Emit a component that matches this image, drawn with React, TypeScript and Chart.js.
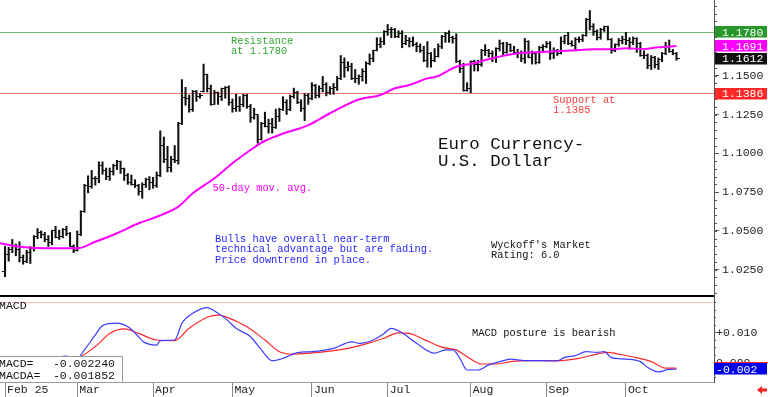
import React, { useEffect, useRef } from 'react';
import { Chart, registerables } from 'chart.js';

Chart.register(...registerables);

const FONT = '"Liberation Mono", "DejaVu Sans Mono", monospace';

// ---- x axis (trading-day index) ----
const MONTH_LABELS = ['Feb 25', 'Mar', 'Apr', 'May', 'Jun', 'Jul', 'Aug', 'Sep', 'Oct'];
const MONTH_START = [0, 20, 41, 63, 85, 106, 129, 150, 172];
const X_MIN = -1.4;
const X_MAX = 196.4;

// ---- daily OHLC ----
const OPEN = [
  1.0240,1.0345,1.0380,1.0405,1.0380,1.0330,1.0305,1.0360,1.0385,1.0465,1.0490,1.0480,1.0445,1.0425,1.0500,1.0460,1.0465,1.0510,1.0485,1.0400,
  1.0375,1.0480,1.0625,1.0790,1.0785,1.0835,1.0835,1.0920,1.0890,1.0850,1.0880,1.0920,1.0945,1.0900,1.0855,1.0815,1.0800,1.0790,1.0755,1.0800,1.0830,
  1.0815,1.0790,1.0855,1.1050,1.0960,1.0910,1.0960,1.0955,1.1190,1.1360,1.1350,1.1285,1.1400,1.1365,1.1400,1.1510,1.1420,1.1315,1.1390,1.1365,1.1420,1.1425,
  1.1330,1.1290,1.1300,1.1315,1.1370,1.1300,1.1230,1.1250,1.1090,1.1190,1.1175,1.1190,1.1165,1.1240,1.1285,1.1330,1.1285,1.1365,1.1390,1.1325,1.1290,1.1370,
  1.1350,1.1440,1.1370,1.1420,1.1445,1.1395,1.1420,1.1425,1.1485,1.1585,1.1550,1.1560,1.1480,1.1480,1.1495,1.1525,1.1580,1.1610,1.1665,1.1700,1.1720,
  1.1785,1.1800,1.1800,1.1755,1.1775,1.1710,1.1725,1.1720,1.1700,1.1690,1.1665,1.1600,1.1640,1.1595,1.1625,1.1690,1.1755,1.1770,1.1745,1.1740,1.1590,1.1545,1.1405,
  1.1415,1.1590,1.1570,1.1575,1.1665,1.1665,1.1640,1.1615,1.1675,1.1705,1.1650,1.1700,1.1660,1.1650,1.1650,1.1610,1.1720,1.1620,1.1640,1.1585,1.1680,
  1.1685,1.1710,1.1640,1.1660,1.1645,1.1720,1.1760,1.1710,1.1695,1.1735,1.1735,1.1760,1.1860,1.1815,1.1785,1.1745,1.1800,1.1815,1.1735,1.1665,1.1700,1.1730,
  1.1735,1.1730,1.1715,1.1740,1.1710,1.1630,1.1630,1.1565,1.1615,1.1570,1.1605,1.1645,1.1690,1.1655,1.1645,
];
const HIGH = [
  1.0400,1.0395,1.0445,1.0415,1.0430,1.0345,1.0375,1.0400,1.0470,1.0515,1.0500,1.0490,1.0470,1.0505,1.0530,1.0505,1.0515,1.0530,1.0490,1.0410,
  1.0500,1.0630,1.0800,1.0855,1.0890,1.0850,1.0945,1.0945,1.0905,1.0905,1.0930,1.0955,1.0950,1.0905,1.0870,1.0860,1.0830,1.0800,1.0810,1.0840,1.0850,
  1.0845,1.0880,1.1145,1.1105,1.1045,1.0980,1.1050,1.1200,1.1475,1.1425,1.1375,1.1405,1.1405,1.1385,1.1575,1.1510,1.1440,1.1405,1.1395,1.1420,1.1430,1.1435,
  1.1350,1.1380,1.1365,1.1380,1.1380,1.1315,1.1290,1.1250,1.1200,1.1265,1.1220,1.1225,1.1285,1.1290,1.1365,1.1345,1.1375,1.1420,1.1400,1.1345,1.1385,1.1385,
  1.1455,1.1445,1.1435,1.1495,1.1455,1.1430,1.1450,1.1495,1.1630,1.1615,1.1590,1.1580,1.1540,1.1505,1.1545,1.1590,1.1640,1.1665,1.1745,1.1745,1.1790,
  1.1830,1.1810,1.1805,1.1790,1.1790,1.1760,1.1745,1.1750,1.1715,1.1705,1.1690,1.1720,1.1650,1.1675,1.1705,1.1760,1.1780,1.1790,1.1755,1.1770,1.1600,1.1580,1.1455,
  1.1595,1.1600,1.1600,1.1670,1.1700,1.1670,1.1660,1.1680,1.1730,1.1715,1.1715,1.1705,1.1690,1.1670,1.1660,1.1740,1.1725,1.1660,1.1650,1.1690,1.1700,
  1.1720,1.1720,1.1680,1.1670,1.1750,1.1760,1.1780,1.1725,1.1745,1.1750,1.1765,1.1870,1.1920,1.1835,1.1795,1.1805,1.1820,1.1820,1.1740,1.1705,1.1740,1.1755,
  1.1780,1.1745,1.1750,1.1745,1.1715,1.1660,1.1640,1.1630,1.1625,1.1615,1.1650,1.1715,1.1730,1.1670,1.1650,
];
const LOW = [
  1.0205,1.0305,1.0360,1.0340,1.0300,1.0285,1.0295,1.0290,1.0370,1.0450,1.0455,1.0430,1.0400,1.0410,1.0455,1.0445,1.0455,1.0470,1.0400,1.0360,
  1.0370,1.0470,1.0620,1.0745,1.0775,1.0795,1.0810,1.0865,1.0830,1.0825,1.0860,1.0895,1.0870,1.0825,1.0800,1.0795,1.0780,1.0730,1.0710,1.0780,1.0765,
  1.0775,1.0780,1.0850,1.0940,1.0880,1.0880,1.0940,1.0930,1.1185,1.1310,1.1265,1.1270,1.1335,1.1355,1.1395,1.1395,1.1310,1.1315,1.1315,1.1340,1.1355,1.1310,
  1.1265,1.1270,1.1270,1.1300,1.1290,1.1200,1.1220,1.1065,1.1085,1.1170,1.1130,1.1130,1.1160,1.1205,1.1275,1.1250,1.1275,1.1355,1.1320,1.1270,1.1210,1.1315,
  1.1345,1.1355,1.1360,1.1395,1.1370,1.1380,1.1380,1.1405,1.1475,1.1490,1.1530,1.1475,1.1455,1.1445,1.1465,1.1450,1.1570,1.1590,1.1660,1.1680,1.1700,
  1.1760,1.1745,1.1745,1.1745,1.1680,1.1700,1.1685,1.1690,1.1655,1.1650,1.1590,1.1555,1.1555,1.1590,1.1620,1.1675,1.1715,1.1715,1.1710,1.1585,1.1520,1.1400,1.1400,
  1.1390,1.1530,1.1530,1.1560,1.1630,1.1620,1.1590,1.1585,1.1660,1.1630,1.1645,1.1655,1.1640,1.1615,1.1590,1.1580,1.1615,1.1575,1.1575,1.1580,1.1655,
  1.1680,1.1605,1.1610,1.1630,1.1640,1.1705,1.1700,1.1690,1.1660,1.1715,1.1720,1.1755,1.1795,1.1760,1.1730,1.1735,1.1785,1.1730,1.1645,1.1655,1.1690,1.1705,
  1.1700,1.1670,1.1700,1.1650,1.1625,1.1610,1.1545,1.1540,1.1550,1.1540,1.1590,1.1635,1.1650,1.1635,1.1600,
];
const CLOSE = [
  1.0345,1.0380,1.0405,1.0380,1.0330,1.0305,1.0360,1.0385,1.0465,1.0490,1.0480,1.0445,1.0425,1.0500,1.0460,1.0465,1.0510,1.0485,1.0400,1.0375,
  1.0480,1.0625,1.0790,1.0785,1.0835,1.0835,1.0920,1.0890,1.0850,1.0880,1.0920,1.0945,1.0900,1.0855,1.0815,1.0800,1.0790,1.0755,1.0800,1.0830,1.0815,
  1.0790,1.0855,1.1050,1.0960,1.0910,1.0960,1.0955,1.1190,1.1360,1.1350,1.1285,1.1400,1.1365,1.1370,1.1510,1.1420,1.1315,1.1390,1.1365,1.1420,1.1425,1.1330,
  1.1290,1.1300,1.1315,1.1370,1.1300,1.1230,1.1250,1.1090,1.1190,1.1175,1.1190,1.1165,1.1240,1.1285,1.1330,1.1285,1.1365,1.1390,1.1325,1.1290,1.1370,1.1350,
  1.1440,1.1370,1.1420,1.1445,1.1395,1.1420,1.1425,1.1485,1.1585,1.1550,1.1560,1.1480,1.1480,1.1495,1.1525,1.1580,1.1610,1.1665,1.1700,1.1720,1.1785,
  1.1800,1.1800,1.1755,1.1775,1.1710,1.1725,1.1720,1.1700,1.1690,1.1665,1.1600,1.1640,1.1595,1.1625,1.1690,1.1755,1.1770,1.1745,1.1740,1.1590,1.1545,1.1405,1.1415,
  1.1590,1.1570,1.1575,1.1665,1.1665,1.1640,1.1615,1.1675,1.1705,1.1650,1.1700,1.1660,1.1650,1.1650,1.1610,1.1720,1.1620,1.1640,1.1585,1.1680,1.1685,
  1.1710,1.1640,1.1660,1.1645,1.1720,1.1760,1.1710,1.1695,1.1735,1.1735,1.1760,1.1860,1.1815,1.1785,1.1745,1.1800,1.1815,1.1735,1.1665,1.1700,1.1730,1.1735,
  1.1730,1.1715,1.1740,1.1710,1.1630,1.1630,1.1565,1.1615,1.1570,1.1605,1.1645,1.1690,1.1655,1.1645,1.1612,
];

// ---- 50-day moving average ----
const MA_X = [-1.4, 4, 12, 20, 25, 31, 37, 42, 48, 52, 58, 63, 68, 71, 76, 84, 90, 98, 104, 108, 112, 117, 120, 124, 126, 129, 135, 142, 149, 157, 163, 168, 172, 177, 181, 186];
const MA_Y = [1.0420, 1.0398, 1.0388, 1.0388, 1.0430, 1.0485, 1.0549, 1.0591, 1.0656, 1.0742, 1.0839, 1.0936, 1.1021, 1.1068, 1.1118, 1.1182, 1.1258, 1.1347, 1.1376, 1.1419, 1.1440, 1.1483, 1.1498, 1.1548, 1.1564, 1.1575, 1.1612, 1.1644, 1.1653, 1.1662, 1.1670, 1.1670, 1.1677, 1.1672, 1.1683, 1.1691];

// ---- MACD and signal line ----
const MACD_X = [0, 8, 12, 15, 17, 19, 20, 22, 25, 27, 31, 34, 37, 38, 42, 43, 47, 49, 52, 56, 59, 61, 64, 68, 71, 74, 77, 81, 85, 91, 96, 98, 102, 105, 107, 110, 114, 119, 122, 124, 126, 128, 131, 134, 137, 140, 144, 148, 153, 155, 158, 161, 164, 166, 168, 172, 176, 178, 181, 184, 186];
const MACD_Y = [-0.0010, 0.0005, 0.0012, 0.0019, 0.0021, 0.0010, 0.0012, 0.0042, 0.0092, 0.0123, 0.0131, 0.0119, 0.0086, 0.0072, 0.0058, 0.0073, 0.0075, 0.0131, 0.0164, 0.0183, 0.0164, 0.0147, 0.0114, 0.0086, 0.0042, 0.0006, 0.0014, 0.0033, 0.0036, 0.0047, 0.0069, 0.0064, 0.0075, 0.0097, 0.0114, 0.0099, 0.0064, 0.0031, 0.0042, 0.0042, 0.0014, -0.0025, -0.0025, -0.0008, 0.0003, 0.0011, 0.0006, 0.0006, 0.0005, 0.0017, 0.0023, 0.0036, 0.0034, 0.0036, 0.0016, 0.0011, 0.0003, -0.0016, -0.0031, -0.0023, -0.00224];
const SIGNAL_X = [0, 8, 14, 20, 25, 29, 33, 37, 42, 47, 51, 56, 59, 61, 67, 72, 76, 80, 87, 95, 100, 105, 109, 112, 116, 121, 125, 128, 132, 136, 140, 147, 153, 159, 164, 167, 170, 175, 179, 183, 186];
const SIGNAL_Y = [-0.0005, 0.0000, 0.0008, 0.0015, 0.0053, 0.0097, 0.0112, 0.0097, 0.0075, 0.0073, 0.0114, 0.0151, 0.0158, 0.0153, 0.0119, 0.0075, 0.0036, 0.0028, 0.0034, 0.0047, 0.0062, 0.0081, 0.0099, 0.0097, 0.0077, 0.0051, 0.0042, 0.0019, -0.0005, -0.0005, 0.0003, 0.0006, 0.0006, 0.0014, 0.0028, 0.0034, 0.0028, 0.0016, 0.0003, -0.0019, -0.00185];

// ---- axes and reference levels ----
const PRICE_TICKS = [1.025, 1.05, 1.075, 1.1, 1.125, 1.15, 1.175];
const PRICE_TICK_LABELS = ['1.0250', '1.0500', '1.0750', '1.1000', '1.1250', '1.1500', ''];
const PRICE_MIN = 1.00741;
const PRICE_MAX = 1.19878;
const MACD_TICKS = [0, 0.01];
const MACD_TICK_LABELS = ['0.000', '+0.010'];
const MACD_MIN = -0.0065;
const MACD_MAX = 0.02183;
const MACD_UPPER_REF = 0.020;

const RESISTANCE = 1.178;
const SUPPORT = 1.1386;
const LAST_CLOSE = 1.1612;
const LAST_MA = 1.1691;
const LAST_MACD = -0.002240;
const LAST_MACDA = -0.001852;

function tickImage(side: 'open' | 'close') {
  const c = document.createElement('canvas');
  c.width = 7;
  c.height = 1;
  const g = c.getContext('2d')!;
  g.fillStyle = '#111';
  if (side === 'open') g.fillRect(0, 0, 3, 1);
  else g.fillRect(4, 0, 3, 1);
  return c;
}

function valueBox(ctx: CanvasRenderingContext2D, y: number, bg: string, text: string) {
  ctx.fillStyle = bg;
  ctx.fillRect(715, Math.round(y - 5.75), 52, 11.5);
  ctx.fillStyle = '#fff';
  ctx.font = `11.5px ${FONT}`;
  ctx.textAlign = 'left';
  ctx.textBaseline = 'middle';
  ctx.fillText(text, 722, y + 0.5);
}

function texts(ctx: CanvasRenderingContext2D, color: string, size: number, x: number, lines: [string, number][]) {
  ctx.fillStyle = color;
  ctx.font = `${size}px ${FONT}`;
  ctx.textAlign = 'left';
  ctx.textBaseline = 'alphabetic';
  for (const [t, y] of lines) ctx.fillText(t, x, y);
}

function noPadding(s: any) {
  s.paddingTop = 0;
  s.paddingBottom = 0;
  s.paddingLeft = 0;
  s.paddingRight = 0;
}

const pricePlugin = {
  id: 'pricePlugin',
  beforeDatasetsDraw(chart: any) {
    const { ctx, chartArea, scales } = chart;
    const y = scales.y;
    ctx.save();
    ctx.lineWidth = 1;
    ctx.strokeStyle = 'rgb(110,185,110)';
    const yr = Math.round(y.getPixelForValue(RESISTANCE)) + 0.5;
    ctx.beginPath(); ctx.moveTo(chartArea.left, yr); ctx.lineTo(chartArea.right, yr); ctx.stroke();
    ctx.strokeStyle = 'rgb(255,110,110)';
    const ys = Math.round(y.getPixelForValue(SUPPORT)) + 0.5;
    ctx.beginPath(); ctx.moveTo(chartArea.left, ys); ctx.lineTo(chartArea.right, ys); ctx.stroke();
    ctx.restore();
  },
  afterDraw(chart: any) {
    const { ctx, chartArea, scales } = chart;
    const y = scales.y;
    ctx.save();
    ctx.strokeStyle = '#555';
    ctx.lineWidth = 1;
    for (let v = 1.01; v < PRICE_MAX; v += 0.005) {
      const p = Math.round(y.getPixelForValue(v)) + 0.5;
      ctx.beginPath(); ctx.moveTo(chartArea.right, p); ctx.lineTo(chartArea.right + 3, p); ctx.stroke();
    }
    ctx.fillStyle = '#000';
    ctx.fillRect(chartArea.left, chartArea.bottom - 2, chartArea.right - chartArea.left, 2);

    valueBox(ctx, y.getPixelForValue(RESISTANCE), 'rgb(40,150,40)', RESISTANCE.toFixed(4));
    valueBox(ctx, y.getPixelForValue(LAST_MA), 'rgb(255,0,255)', LAST_MA.toFixed(4));
    valueBox(ctx, y.getPixelForValue(LAST_CLOSE), '#111', LAST_CLOSE.toFixed(4));
    valueBox(ctx, y.getPixelForValue(SUPPORT), 'rgb(255,40,40)', SUPPORT.toFixed(4));

    texts(ctx, 'rgb(50,165,50)', 10.4, 231, [['Resistance', 43.5], ['at 1.1780', 53.5]]);
    texts(ctx, 'rgb(255,60,60)', 10.4, 553, [['Support at', 102.5], ['1.1385', 112.5]]);
    texts(ctx, 'rgb(255,0,255)', 10.4, 212.5, [['50-day mov. avg.', 190.5]]);
    texts(ctx, 'rgb(40,40,255)', 10.4, 215, [
      ['Bulls have overall near-term', 242],
      ['technical advantage but are fading.', 252.3],
      ['Price downtrend in place.', 262.6],
    ]);
    texts(ctx, '#111', 17.4, 438, [['Euro Currency-', 149.3], ['U.S. Dollar', 166.3]]);
    texts(ctx, '#111', 10.4, 491, [["Wyckoff's Market", 247.5], ['Rating: 6.0', 258]]);
    ctx.restore();
  },
};

const macdPlugin = {
  id: 'macdPlugin',
  beforeDatasetsDraw(chart: any) {
    const { ctx, chartArea, scales } = chart;
    ctx.save();
    ctx.strokeStyle = 'rgb(255,185,185)';
    ctx.lineWidth = 1;
    const p = Math.round(scales.y.getPixelForValue(MACD_UPPER_REF)) + 0.5;
    ctx.beginPath(); ctx.moveTo(chartArea.left, p); ctx.lineTo(chartArea.right, p); ctx.stroke();
    ctx.restore();
  },
  afterDraw(chart: any) {
    const { ctx, chartArea, scales } = chart;
    const y = scales.y;
    ctx.save();
    ctx.strokeStyle = '#555';
    ctx.lineWidth = 1;
    for (let v = -0.005; v < MACD_MAX; v += 0.0025) {
      const p = Math.round(y.getPixelForValue(v)) + 0.5;
      ctx.beginPath(); ctx.moveTo(chartArea.right, p); ctx.lineTo(chartArea.right + 2, p); ctx.stroke();
    }
    const z = Math.round(y.getPixelForValue(0)) + 0.5;
    ctx.strokeStyle = 'rgb(255,40,40)';
    ctx.beginPath(); ctx.moveTo(chartArea.right, z); ctx.lineTo(768, z); ctx.stroke();
    const yb = y.getPixelForValue(LAST_MACD);
    ctx.fillStyle = 'rgb(0,0,235)';
    ctx.fillRect(714, Math.round(yb - 5.75), 53, 11.5);
    ctx.fillStyle = '#fff';
    ctx.font = `11.5px ${FONT}`;
    ctx.textAlign = 'left';
    ctx.textBaseline = 'middle';
    ctx.fillText(LAST_MACD.toFixed(3), 716, yb + 0.5);

    ctx.fillStyle = '#fff';
    ctx.fillRect(0, 59.5, 122, chartArea.bottom - 59.5);
    ctx.strokeStyle = '#999';
    ctx.beginPath(); ctx.moveTo(0, 59.5); ctx.lineTo(122.5, 59.5); ctx.lineTo(122.5, chartArea.bottom); ctx.stroke();
    ctx.fillStyle = '#111';
    ctx.font = `11.5px ${FONT}`;
    ctx.textBaseline = 'alphabetic';
    ctx.textAlign = 'left';
    ctx.fillText('MACD=', -1, 69.5);
    ctx.fillText('MACDA=', -1, 81.5);
    ctx.textAlign = 'right';
    ctx.fillText(LAST_MACD.toFixed(6), 115, 69.5);
    ctx.fillText(LAST_MACDA.toFixed(6), 115, 81.5);

    ctx.textAlign = 'left';
    ctx.fillText('MACD', -1, 11.5);
    texts(ctx, '#111', 10.4, 472, [['MACD posture is bearish', 38.8]]);

    ctx.fillStyle = 'rgb(255,30,30)';
    ctx.beginPath();
    ctx.moveTo(757, 93);
    ctx.lineTo(762, 89);
    ctx.lineTo(762, 91.5);
    ctx.lineTo(767, 91.5);
    ctx.lineTo(767, 94.5);
    ctx.lineTo(762, 94.5);
    ctx.lineTo(762, 97);
    ctx.closePath();
    ctx.fill();
    ctx.restore();
  },
};

export default function App() {
  const priceRef = useRef<HTMLCanvasElement>(null);
  const macdRef = useRef<HTMLCanvasElement>(null);

  useEffect(() => {
    document.body.style.margin = '0';
    Chart.defaults.font.family = FONT;
    const openImg = tickImage('open');
    const closeImg = tickImage('close');

    const priceChart = new Chart(priceRef.current!, {
      type: 'line',
      data: {
        datasets: [
          {
            type: 'line',
            label: 'MA50',
            data: MA_X.map((x, k) => ({ x, y: MA_Y[k] })),
            borderColor: 'rgb(255,0,255)',
            borderWidth: 2,
            pointRadius: 0,
            cubicInterpolationMode: 'monotone',
            order: 0,
          } as any,
          {
            type: 'line',
            label: 'open',
            data: OPEN.map((v, i) => ({ x: i, y: v })),
            showLine: false,
            pointStyle: openImg,
            pointRadius: 3,
            order: 1,
          } as any,
          {
            type: 'line',
            label: 'close',
            data: CLOSE.map((v, i) => ({ x: i, y: v })),
            showLine: false,
            pointStyle: closeImg,
            pointRadius: 3,
            order: 1,
          } as any,
          {
            type: 'bar',
            label: 'range',
            data: HIGH.map((h, i) => ({ x: i, y: [LOW[i], h] })),
            backgroundColor: '#111',
            borderWidth: 0,
            barThickness: 1.4,
            grouped: false,
            order: 2,
          } as any,
        ],
      },
      options: {
        responsive: false,
        animation: false,
        devicePixelRatio: 1,
        layout: { padding: 0, autoPadding: false },
        plugins: { legend: { display: false }, tooltip: { enabled: false } },
        scales: {
          x: {
            type: 'linear',
            display: false,
            min: X_MIN,
            max: X_MAX,
            offset: false,
            afterFit: noPadding,
          },
          y: {
            type: 'linear',
            position: 'right',
            min: PRICE_MIN,
            max: PRICE_MAX,
            afterBuildTicks: (s: any) => { s.ticks = PRICE_TICKS.map((value) => ({ value })); },
            afterFit: (s: any) => { s.width = 54; noPadding(s); },
            ticks: {
              callback: (_v: any, idx: number) => PRICE_TICK_LABELS[idx],
              font: { family: FONT, size: 11.5 },
              color: '#222',
              padding: 3,
            },
            grid: { drawOnChartArea: false, drawTicks: true, tickLength: 5, color: '#555' },
            border: { display: true, color: '#555' },
          },
        },
      } as any,
      plugins: [pricePlugin],
    });

    const macdChart = new Chart(macdRef.current!, {
      type: 'line',
      data: {
        datasets: [
          {
            label: 'MACD',
            data: MACD_X.map((x, k) => ({ x, y: MACD_Y[k] })),
            borderColor: 'rgb(60,60,255)',
            borderWidth: 1.2,
            pointRadius: 0,
            cubicInterpolationMode: 'monotone',
            order: 0,
          },
          {
            label: 'MACDA',
            data: SIGNAL_X.map((x, k) => ({ x, y: SIGNAL_Y[k] })),
            borderColor: 'rgb(255,40,40)',
            borderWidth: 1.2,
            pointRadius: 0,
            cubicInterpolationMode: 'monotone',
            order: 1,
          },
        ],
      },
      options: {
        responsive: false,
        animation: false,
        devicePixelRatio: 1,
        layout: { padding: 0, autoPadding: false },
        plugins: { legend: { display: false }, tooltip: { enabled: false } },
        scales: {
          x: {
            type: 'linear',
            position: 'bottom',
            min: X_MIN,
            max: X_MAX,
            offset: false,
            afterBuildTicks: (s: any) => { s.ticks = MONTH_START.map((value) => ({ value })); },
            afterFit: (s: any) => { s.height = 15; noPadding(s); },
            ticks: {
              callback: (_v: any, idx: number) => MONTH_LABELS[idx],
              align: 'start',
              maxRotation: 0,
              minRotation: 0,
              autoSkip: false,
              padding: -14,
              labelOffset: 2,
              font: { family: FONT, size: 11.5 },
              color: '#222',
            },
            grid: { drawOnChartArea: false, drawTicks: true, tickLength: 15, color: '#888', offset: false },
            border: { display: true, color: '#999' },
          },
          y: {
            type: 'linear',
            position: 'right',
            min: MACD_MIN,
            max: MACD_MAX,
            afterBuildTicks: (s: any) => { s.ticks = MACD_TICKS.map((value) => ({ value })); },
            afterFit: (s: any) => { s.width = 54; noPadding(s); },
            ticks: {
              callback: (_v: any, idx: number) => MACD_TICK_LABELS[idx],
              font: { family: FONT, size: 11.5 },
              color: '#222',
              padding: 0,
            },
            grid: { drawOnChartArea: false, drawTicks: true, tickLength: 2, color: '#555' },
            border: { display: true, color: '#555' },
          },
        },
      } as any,
      plugins: [macdPlugin],
    });

    return () => {
      priceChart.destroy();
      macdChart.destroy();
    };
  }, []);

  return (
    <div style={{ position: 'fixed', left: 0, top: 0, width: 768, height: 397, background: '#fff', overflow: 'hidden' }}>
      <canvas ref={priceRef} width={768} height={297} style={{ position: 'absolute', left: 0, top: 0 }} />
      <canvas ref={macdRef} width={768} height={100} style={{ position: 'absolute', left: 0, top: 297 }} />
    </div>
  );
}
